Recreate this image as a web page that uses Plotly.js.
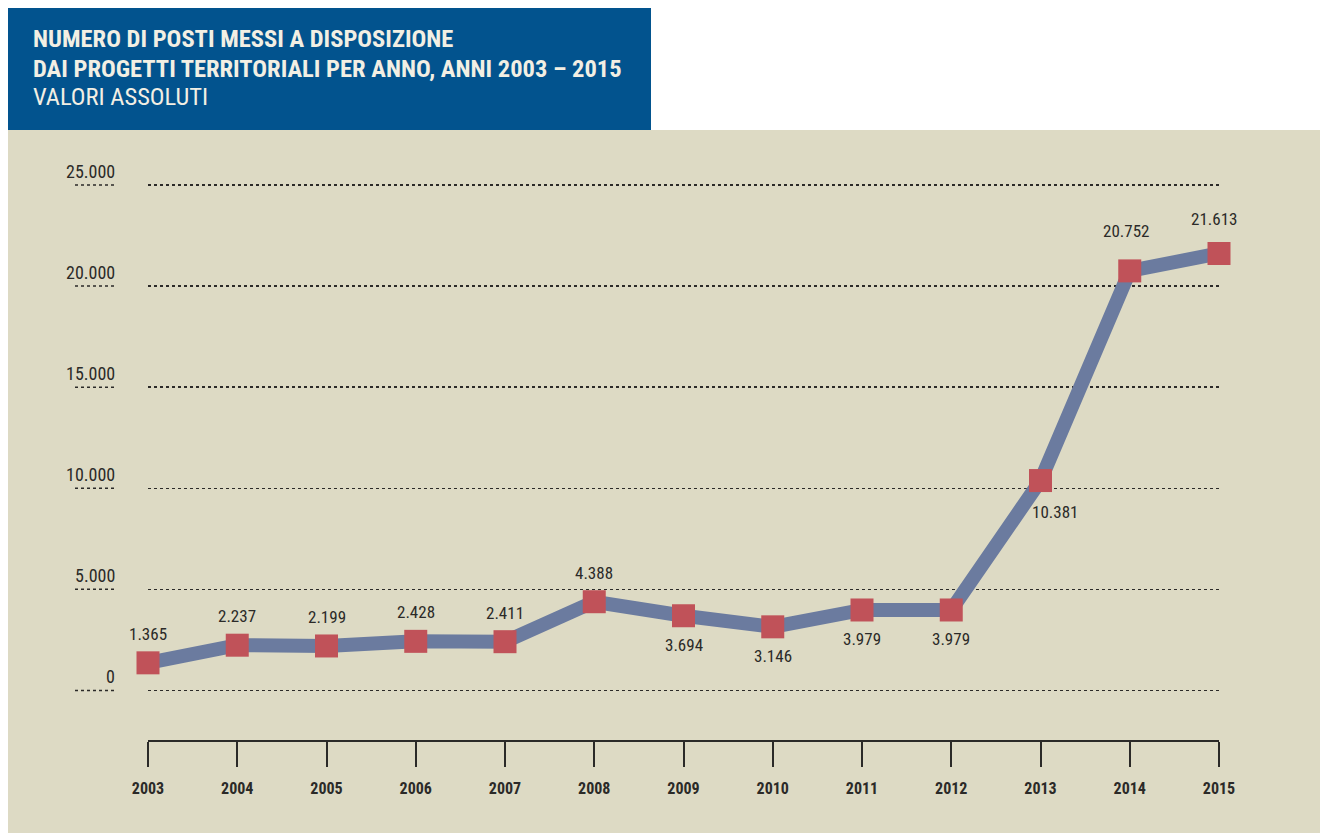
<!DOCTYPE html>
<html>
<head>
<meta charset="utf-8">
<script src="https://cdn.plot.ly/plotly-3.0.1.min.js"></script>
<style>
html,body{margin:0;padding:0;background:#ffffff;}
#chart{width:1320px;height:833px;}
</style>
</head>
<body>
<div id="chart"></div>
<script>
// ---- data ----
const years = [2003, 2004, 2005, 2006, 2007, 2008, 2009, 2010, 2011, 2012, 2013, 2014, 2015];
const posti = [1365, 2237, 2199, 2428, 2411, 4388, 3694, 3146, 3979, 3979, 10381, 20752, 21613];
const valueLabels = ['1.365','2.237','2.199','2.428','2.411','4.388','3.694','3.146','3.979','3.979','10.381','20.752','21.613'];
const labelPlacement = ['above','above','above','above','above','above','below','below','below','below','below-right','above-left','above-far'];
const yTickVals = [0, 5000, 10000, 15000, 20000, 25000];
const yTickText = ['0', '5.000', '10.000', '15.000', '20.000', '25.000'];
const titleLines = ['NUMERO DI POSTI MESSI A DISPOSIZIONE', 'DAI PROGETTI TERRITORIALI PER ANNO, ANNI 2003 – 2015', 'VALORI ASSOLUTI'];

// ---- layout geometry (pixels) ----
const W = 1320, H = 833;
const L = 148, R = 101, T = 175, B = 93;
const pw = W - L - R, ph = H - T - B;
const px = v => (v - L) / pw;          // pixel x -> paper
const py = v => (H - B - v) / ph;      // pixel y -> paper

const FONT = 'Liberation Sans Narrow, Roboto Condensed, Roboto, Arial Narrow, sans-serif';
const TXT = '#2b2a28';
const BEIGE = '#dddac4';
const BLUE = '#02538e';

const shapes = [
  // beige panel
  {type:'rect', xref:'paper', yref:'paper', x0:px(8), x1:px(1320), y0:py(833), y1:py(130),
   fillcolor:BEIGE, line:{width:0}, layer:'below'},
  // blue title box
  {type:'rect', xref:'paper', yref:'paper', x0:px(8), x1:px(651), y0:py(130), y1:py(8),
   fillcolor:BLUE, line:{width:0}, layer:'below'}
];
// short dotted segments under the y tick labels
yTickVals.forEach(v => {
  shapes.push({type:'line', xref:'paper', yref:'y', x0:px(75), x1:px(117), y0:v, y1:v,
    line:{color:TXT, width:1.5, dash:'dot'}, layer:'below'});
});

const annotations = [];
// title
titleLines.forEach((t, i) => {
  annotations.push({xref:'paper', yref:'paper', x:px(31), y:py(39 + i*29), xanchor:'left', yanchor:'middle',
    text: i < 2 ? '<b>' + t + '</b>' : t, showarrow:false,
    font:{family:FONT, size:24.5, color:'#f2efe4'}});
});
// y tick labels (above the gridline)
yTickVals.forEach((v, i) => {
  annotations.push({xref:'paper', yref:'y', x:px(117), y:v, xanchor:'right', yanchor:'bottom', yshift:1,
    text:yTickText[i], showarrow:false, font:{family:FONT, size:18, color:TXT}});
});
// value labels
const shiftFor = {
  'above': [0, 29, 'bottom'],
  'above-far': [-5, 34, 'bottom'],
  'below': [0, -29, 'top'],
  'below-right': [14, -31, 'top'],
  'above-left': [-4, 40, 'bottom'],
};
years.forEach((yr, i) => {
  const s = shiftFor[labelPlacement[i]];
  annotations.push({xref:'x', yref:'y', x:yr, y:posti[i], xanchor:'center', yanchor:'middle',
    xshift:s[0], yshift:s[1], text:valueLabels[i], showarrow:false,
    font:{family:FONT, size:17, color:TXT}});
});

const trace = {
  x: years, y: posti, type:'scatter', mode:'lines+markers',
  line:{color:'#6b7b9f', width:14},
  marker:{symbol:'square', size:23, color:'#c05259', line:{width:0}},
  cliponaxis:false, hoverinfo:'skip'
};

const layout = {
  width:W, height:H,
  margin:{l:L, r:R, t:T, b:B, pad:0},
  paper_bgcolor:'#ffffff', plot_bgcolor:'rgba(0,0,0,0)',
  showlegend:false,
  xaxis:{
    range:[2003, 2015], tickmode:'array', tickvals:years, ticktext:years.map(String),
    showgrid:false, zeroline:false, showline:true, linecolor:TXT, linewidth:2,
    ticks:'outside', ticklen:25, tickwidth:2, tickcolor:TXT,
    tickfont:{family:FONT, size:16, color:TXT, weight:'bold'}, ticklabelstandoff:8,
    fixedrange:true
  },
  yaxis:{
    range:[-2452, 25495], tickmode:'array', tickvals:yTickVals, showticklabels:false,
    showgrid:true, gridcolor:TXT, gridwidth:1.5, griddash:'dot',
    zeroline:false, showline:false, ticks:'', fixedrange:true
  },
  shapes:shapes,
  annotations:annotations
};

Plotly.newPlot('chart', [trace], layout, {displayModeBar:false, staticPlot:true});
</script>
</body>
</html>
